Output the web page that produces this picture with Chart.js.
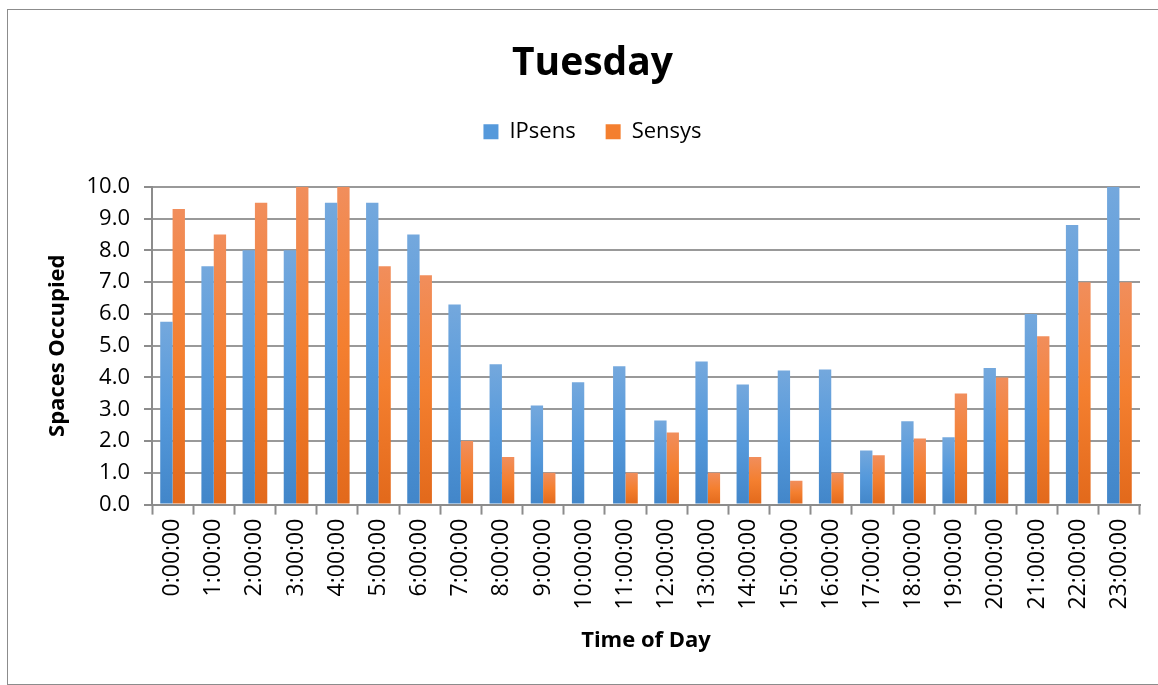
<!DOCTYPE html>
<html>
<head>
<meta charset="utf-8">
<script src="https://cdn.jsdelivr.net/npm/chart.js@4.4.1/dist/chart.umd.min.js"></script>
<style>
  body { margin: 0; background: #fff; }
  #wrap { position: absolute; left: 7px; top: 9px; width: 1150px; height: 674px; border: 1px solid #8c8c8c; }
</style>
</head>
<body>
<div id="wrap"><canvas id="tuesdayChart"></canvas></div>
<script>
    // hours of the day
    const hours = ['0:00:00', '1:00:00', '2:00:00', '3:00:00', '4:00:00', '5:00:00', '6:00:00', '7:00:00',
        '8:00:00', '9:00:00', '10:00:00', '11:00:00', '12:00:00', '13:00:00', '14:00:00', '15:00:00',
        '16:00:00', '17:00:00', '18:00:00', '19:00:00', '20:00:00', '21:00:00', '22:00:00', '23:00:00'];

    const ipsens = [5.75, 7.5, 8.0, 8.0, 9.5, 9.5, 8.5, 6.3, 4.42, 3.12, 3.85, 4.35,
        2.65, 4.5, 3.78, 4.22, 4.25, 1.7, 2.62, 2.12, 4.3, 6.0, 8.8, 10.0];
    const sensys = [9.3, 8.5, 9.5, 10.0, 10.0, 7.5, 7.22, 2.0, 1.5, 1.0, 0, 1.0,
        2.27, 1.0, 1.5, 0.75, 1.0, 1.55, 2.08, 3.5, 4.0, 5.3, 7.0, 7.0];

    // vertical gradient per bar, lighter at the top like the office style
    function barFill(top, mid, bottom) {
        return function (c) {
            const chart = c.chart;
            if (!chart.chartArea || c.type !== 'data') return mid;
            const y = chart.scales.y;
            const yTop = y.getPixelForValue(c.parsed.y);
            const yBase = y.getPixelForValue(0);
            if (yBase - yTop < 1) return mid;
            const g = chart.ctx.createLinearGradient(0, yTop, 0, yBase);
            g.addColorStop(0, top);
            g.addColorStop(0.5, mid);
            g.addColorStop(1, bottom);
            return g;
        };
    }

    // extra room under the legend
    const legendMargin = {
        id: 'legendMargin',
        beforeInit(chart) {
            const fit = chart.legend.fit;
            chart.legend.fit = function () {
                fit.bind(chart.legend)();
                this.height += 34;
            };
        }
    };

    const ctx = document.getElementById('tuesdayChart').getContext('2d');
    const fontFamily = "'Open Sans', sans-serif";

    new Chart(ctx, {
        type: 'bar',
        data: {
            labels: hours,
            datasets: [{
                label: 'IPsens',
                data: ipsens,
                backgroundColor: barFill('#74a8dd', '#5599db', '#4286c9')
            }, {
                label: 'Sensys',
                data: sensys,
                backgroundColor: barFill('#f18e5c', '#f47f2f', '#e2691b')
            }]
        },
        options: {
            responsive: true,
            maintainAspectRatio: false,
            animation: false,
            categoryPercentage: 0.6,
            barPercentage: 1.0,
            layout: { padding: { left: 37, right: 18, top: 14, bottom: 30 } },
            plugins: {
                title: {
                    display: true,
                    text: 'Tuesday',
                    color: '#000',
                    font: { family: fontFamily, size: 39, weight: 'bold' },
                    padding: { top: 16, bottom: 4 }
                },
                legend: {
                    position: 'top',
                    labels: {
                        color: '#111',
                        font: { family: fontFamily, size: 22 },
                        boxWidth: 15,
                        boxHeight: 15,
                        padding: 30,
                        generateLabels: function (chart) {
                            return chart.data.datasets.map((ds, i) => ({
                                text: ds.label,
                                fillStyle: i === 0 ? '#5599db' : '#f47f2f',
                                strokeStyle: 'rgba(0,0,0,0)',
                                lineWidth: 0,
                                datasetIndex: i
                            }));
                        }
                    }
                },
                tooltip: { enabled: false }
            },
            scales: {
                x: {
                    grid: {
                        drawOnChartArea: false,
                        drawTicks: true,
                        tickLength: 10,
                        tickWidth: 2,
                        tickColor: '#8c8c8c',
                        offset: true
                    },
                    border: { color: '#8c8c8c', width: 2 },
                    ticks: {
                        color: '#000',
                        font: { family: fontFamily, size: 23 },
                        minRotation: 90,
                        maxRotation: 90,
                        autoSkip: false,
                        padding: 4
                    },
                    title: {
                        display: true,
                        text: 'Time of Day',
                        color: '#000',
                        font: { family: fontFamily, size: 22, weight: 'bold' },
                        padding: { top: 14, bottom: 0 }
                    }
                },
                y: {
                    min: 0,
                    max: 10,
                    afterFit: function (scale) { scale.width = 107; },
                    grid: {
                        color: '#999999',
                        lineWidth: 2,
                        tickLength: 8,
                        tickColor: '#8c8c8c'
                    },
                    border: { color: '#8c8c8c', width: 2 },
                    ticks: {
                        stepSize: 1,
                        color: '#000',
                        font: { family: fontFamily, size: 22 },
                        padding: 14,
                        callback: v => v.toFixed(1)
                    },
                    title: {
                        display: true,
                        text: 'Spaces Occupied',
                        color: '#000',
                        font: { family: fontFamily, size: 22, weight: 'bold' },
                        padding: { top: 0, bottom: 8 }
                    }
                }
            }
        },
        plugins: [legendMargin]
    });
</script>
</body>
</html>
